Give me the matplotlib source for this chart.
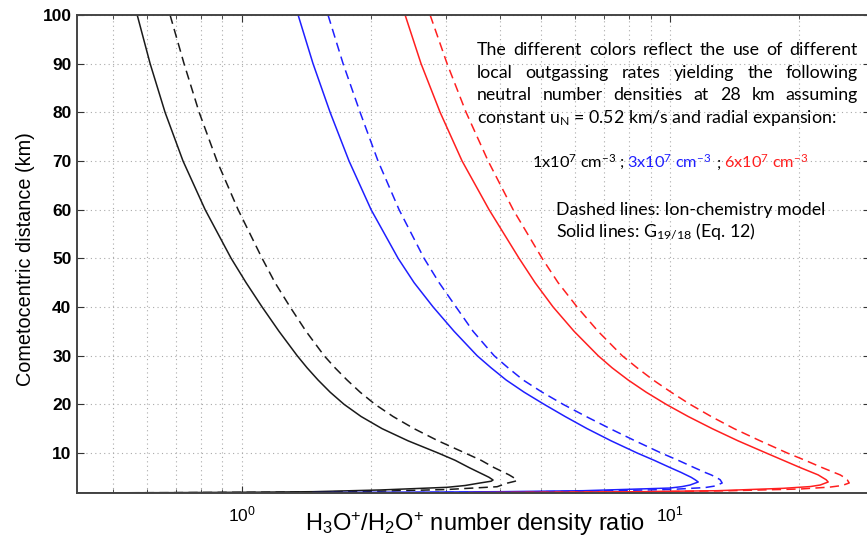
import matplotlib
matplotlib.use("Agg")
import matplotlib.pyplot as plt
from matplotlib.ticker import LogLocator, NullFormatter, FixedLocator

# ---------------- data ----------------
r_black_solid = [100, 90, 80, 70, 60, 50, 45, 40, 35, 30, 27.5, 25, 22.5, 20, 17.5, 15, 12.5, 10, 8.5, 7, 6,
                 5.5, 5, 4.45, 4.2, 3.84, 3.32, 2.95, 2.4, 2.05, 1.95, 1.85, 1.8]
x_black_solid = [0.569, 0.610, 0.661, 0.728, 0.820, 0.943, 1.022, 1.114, 1.220, 1.345, 1.419, 1.505, 1.606,
                 1.731, 1.897, 2.124, 2.443, 2.871, 3.146, 3.392, 3.579, 3.677, 3.776, 3.858, 3.818, 3.598,
                 3.319, 3.013, 2.101, 1.465, 1.102, 0.679, 0.40]

r_black_dash = [100, 90, 80, 70, 60, 50, 45, 40, 35, 30, 27.5, 25, 22.5, 20, 17.5, 15, 12.5, 10, 8.5, 7, 6,
                5.5, 5, 4.45, 4.2, 3.8, 3.07, 2.5, 2.15, 1.97, 1.85, 1.8]
x_black_dash = [0.679, 0.732, 0.794, 0.874, 0.979, 1.114, 1.194, 1.295, 1.411, 1.555, 1.649, 1.759, 1.887,
                2.045, 2.253, 2.523, 2.871, 3.319, 3.617, 3.879, 4.095, 4.206, 4.298, 4.391, 4.345, 4.161,
                3.943, 3.013, 2.101, 1.366, 0.679, 0.40]

r_blue_solid = [100, 90, 80, 70, 60, 50, 45, 40, 35, 30, 27.5, 25, 22.5, 20, 17.5, 15, 12.5, 10, 8.5, 7, 6,
                5.5, 5, 4.5, 4.04, 3.42, 3.1, 2.8, 2.25, 2.05, 1.93, 1.85]
x_blue_solid = [1.352, 1.465, 1.606, 1.778, 2.002, 2.315, 2.523, 2.795, 3.129, 3.540, 3.818, 4.139, 4.559,
                5.078, 5.683, 6.399, 7.280, 8.374, 9.175, 10.0, 10.61, 10.90, 11.20, 11.44, 11.63, 11.13,
                10.67, 10.0, 6.262, 4.007, 2.340, 1.465]

r_blue_dash = [100, 90, 80, 70, 60, 50, 45, 40, 35, 30, 27.5, 25, 22.5, 20, 17.5, 15, 12.5, 10, 8.5, 7, 6,
               5.5, 5, 4.5, 3.84, 3.22, 2.9, 2.5, 2.15, 1.95, 1.83]
x_blue_dash = [1.588, 1.722, 1.887, 2.078, 2.327, 2.662, 2.886, 3.162, 3.465, 3.879, 4.183, 4.535, 5.023,
               5.623, 6.364, 7.242, 8.284, 9.528, 10.44, 11.38, 12.07, 12.47, 12.81, 13.09, 13.23, 12.74,
               12.07, 10.0, 6.262, 4.007, 1.465]

r_red_solid = [100, 90, 80, 70, 60, 50, 45, 40, 35, 30, 27.5, 25, 22.5, 20, 17.5, 15, 12.5, 10, 8.5, 7, 6,
               5.5, 5, 4.5, 4.04, 3.42, 3.1, 2.74, 2.25, 2.05, 1.93, 1.85]
x_red_solid = [2.404, 2.619, 2.902, 3.266, 3.776, 4.438, 4.836, 5.329, 5.966, 6.788, 7.320, 7.978, 8.788,
               9.787, 11.02, 12.54, 14.41, 16.76, 18.37, 20.13, 21.47, 22.17, 22.65, 23.15, 23.40, 22.41,
               21.24, 18.37, 12.88, 8.51, 5.244, 3.392]

r_red_dash = [100, 90, 80, 70, 60, 50, 45, 40, 35, 30, 27.5, 25, 22.5, 20, 17.5, 15, 12.5, 10, 8.5, 7, 6,
              5.5, 5, 4.5, 3.84, 3.32, 3.0, 2.6, 2.25, 2.03, 1.91, 1.83]
x_red_dash = [2.750, 3.013, 3.337, 3.757, 4.298, 5.023, 5.474, 6.063, 6.788, 7.725, 8.374, 9.127, 10.05,
              11.13, 12.47, 14.11, 16.23, 18.77, 20.67, 22.65, 24.16, 24.96, 25.50, 25.92, 26.20, 25.23,
              23.65, 20.13, 13.81, 8.98, 5.534, 3.598]

y_ticks = [10, 20, 30, 40, 50, 60, 70, 80, 90, 100]
y_tick_labels = ["10", "20", "30", "40", "50", "60", "70", "80", "90", "100"]

para_lines = [
    "The different colors reflect the use of different",
    "local outgassing rates yielding the following",
    "neutral number densities at 28 km assuming",
]
last_line = r"constant u$_\mathregular{N}$ = 0.52 km/s and radial expansion:"
density_parts = [
    (r"1x10$^\mathregular{7}$ cm$^\mathregular{-3}$ ;", "black", 532),
    (r"3x10$^\mathregular{7}$ cm$^\mathregular{-3}$", "#1f1fff", 627),
    (";", "black", 717),
    (r"6x10$^\mathregular{7}$ cm$^\mathregular{-3}$", "#ff1f1f", 724),
]
legend_lines = [
    "Dashed lines: Ion-chemistry model",
    r"Solid lines: G$_\mathregular{19/18}$ (Eq. 12)",
]

# ---------------- figure ----------------
plt.rcParams["mathtext.fontset"] = "custom"
plt.rcParams["mathtext.rm"] = "Lato"
plt.rcParams["mathtext.it"] = "Lato:italic"

W, H = 867, 550
fig = plt.figure(figsize=(W / 100, H / 100), dpi=100)
ax_l, ax_r, ax_t, ax_b = 77, 870, 15, 493
ax = fig.add_axes([ax_l / W, 1 - ax_b / H, (ax_r - ax_l) / W, (ax_b - ax_t) / H])

BLACK = "#1a1a1a"
BLUE = "#1f1fff"
RED = "#ff1f1f"
lw = 1.1
dash = (0, (6, 3.5))

ax.plot(x_black_solid, r_black_solid, color=BLACK, lw=lw)
ax.plot(x_black_dash, r_black_dash, color=BLACK, lw=lw, linestyle=dash)
ax.plot(x_blue_solid, r_blue_solid, color=BLUE, lw=lw)
ax.plot(x_blue_dash, r_blue_dash, color=BLUE, lw=lw, linestyle=dash)
ax.plot(x_red_solid, r_red_solid, color=RED, lw=lw)
ax.plot(x_red_dash, r_red_dash, color=RED, lw=lw, linestyle=dash)

ax.set_xscale("log")
ax.set_xlim(0.4116, 29.3)
ax.set_ylim(1.78, 100)

ax.xaxis.set_major_locator(FixedLocator([1, 10]))
ax.set_xticklabels([r"$\mathdefault{10^{0}}$", r"$\mathdefault{10^{1}}$"])
ax.xaxis.set_minor_locator(LogLocator(base=10, subs=range(2, 10)))
ax.xaxis.set_minor_formatter(NullFormatter())
ax.set_yticks(y_ticks)
ax.set_yticklabels(y_tick_labels)

ax.grid(True, which="major", axis="both", linestyle=(0, (1, 3)), color="#aaaaaa", lw=0.8)
ax.grid(True, which="minor", axis="x", linestyle=(0, (1, 3)), color="#aaaaaa", lw=0.8)
ax.set_axisbelow(True)

ax.tick_params(which="both", direction="in", top=True, right=True, color="#333333")
ax.tick_params(which="major", length=5, width=0.8)
ax.tick_params(which="minor", length=3, width=0.6)
ax.tick_params(axis="y", labelsize=12.5, pad=4)
ax.tick_params(axis="x", labelsize=12.5, pad=8)
for lab in ax.get_yticklabels():
    lab.set_fontweight("bold")
    lab.set_family("Liberation Sans")
for lab in ax.get_xticklabels():
    lab.set_family("Liberation Sans")

for s in ax.spines.values():
    s.set_color("#444444")
    s.set_linewidth(1.4)

ax.set_ylabel("Cometocentric distance (km)", fontsize=14.3, family="Liberation Sans")
ax.yaxis.set_label_coords((35 - ax_l) / (ax_r - ax_l), (ax_b - 259) / (ax_b - ax_t))
ax.set_xlabel(r"H$_\mathdefault{3}$O$^\mathdefault{+}$/H$_\mathdefault{2}$O$^\mathdefault{+}$ number density ratio",
              fontsize=17, family="Liberation Sans")
ax.xaxis.set_label_coords((475 - ax_l) / (ax_r - ax_l), (ax_b - 511) / (ax_b - ax_t))

# ---------------- annotation text ----------------
FS = 12.8
FONT = "Lato"

fig.canvas.draw()
renderer = fig.canvas.get_renderer()


def px_to_fig(x, y):
    return x / W, 1 - y / H


def text_width(s, fs=FS):
    t = fig.text(0, 0, s, fontsize=fs, family=FONT)
    w = t.get_window_extent(renderer).width
    t.remove()
    return w


# justified paragraph lines
x0, x1 = 477, 858
baselines = [55, 78, 100]
for line, yb in zip(para_lines, baselines):
    words = line.split(" ")
    widths = [text_width(w) for w in words]
    gap = (x1 - x0 - sum(widths)) / (len(words) - 1)
    xx = x0
    for w, ww in zip(words, widths):
        fig.text(*px_to_fig(xx, yb), w, fontsize=FS, family=FONT, va="baseline", ha="left")
        xx += ww + gap

fig.text(*px_to_fig(x0, 123), last_line, fontsize=FS, family=FONT, va="baseline", ha="left")

# coloured densities line
for s, c, xs in density_parts:
    fig.text(*px_to_fig(xs, 168), s, fontsize=11.8, family=FONT, va="baseline", ha="left", color=c)

fig.text(*px_to_fig(556, 215), legend_lines[0], fontsize=FS, family=FONT, va="baseline", ha="left")
fig.text(*px_to_fig(556, 237), legend_lines[1], fontsize=FS, family=FONT, va="baseline", ha="left")

fig.savefig("out.png", dpi=100)
